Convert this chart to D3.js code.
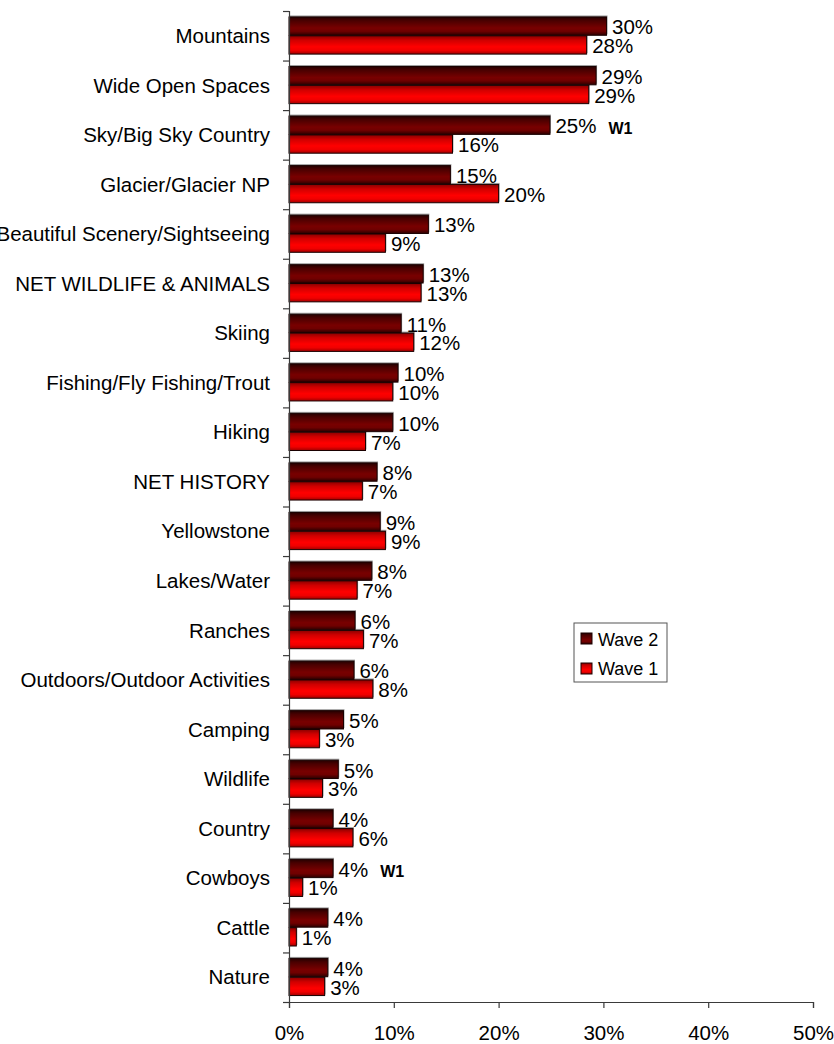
<!DOCTYPE html>
<html>
    <head>
        <meta charset="utf-8">
        <title>Montana Associations Wave 1 vs Wave 2</title>
        <script src="https://cdn.jsdelivr.net/npm/d3@7"></script>
        <style>
            body { margin: 0; background: #fff; }
            text { font-family: "Liberation Sans", Arial, sans-serif; }
        </style>
    </head>
    <body>
        <script>
            const categories = ["Mountains", "Wide Open Spaces", "Sky/Big Sky Country", "Glacier/Glacier NP",
                "Beautiful Scenery/Sightseeing", "NET WILDLIFE & ANIMALS", "Skiing", "Fishing/Fly Fishing/Trout",
                "Hiking", "NET HISTORY", "Yellowstone", "Lakes/Water", "Ranches", "Outdoors/Outdoor Activities",
                "Camping", "Wildlife", "Country", "Cowboys", "Cattle", "Nature"];
            const wave2 = [30.3, 29.3, 24.9, 15.4, 13.3, 12.8, 10.7, 10.4, 9.9, 8.4, 8.7, 7.9, 6.3, 6.2, 5.2, 4.7, 4.2, 4.2, 3.7, 3.7];
            const wave1 = [28.4, 28.6, 15.6, 20.0, 9.2, 12.6, 11.9, 9.9, 7.3, 7.0, 9.2, 6.5, 7.1, 8.0, 2.9, 3.2, 6.1, 1.3, 0.7, 3.4];
            // significance flags shown next to the Wave 2 label
            const w1Flags = ["Sky/Big Sky Country", "Cowboys"];
            const series = ["Wave 2", "Wave 1"];
            const xTicks = [0, 10, 20, 30, 40, 50];

            const w = 834, h = 1044;
            const plot = {left: 289, right: 813, top: 11, bottom: 1002};
            const fontSize = 20.5;

            const svg = d3.select("body")
                .append("svg")
                .attr("width", w)
                .attr("height", h);

            const defs = svg.append("defs");
            const grad = (id, stops) => {
                const g = defs.append("linearGradient")
                    .attr("id", id)
                    .attr("x1", 0).attr("y1", 0)
                    .attr("x2", 0).attr("y2", 1);
                stops.forEach(s => g.append("stop").attr("offset", s[0]).attr("stop-color", s[1]));
            };
            grad("g-wave2", [["0%", "#240000"], ["20%", "#4a0000"], ["60%", "#780000"], ["78%", "#700000"], ["100%", "#2c0000"]]);
            grad("g-wave1", [["0%", "#8a0000"], ["25%", "#d00000"], ["60%", "#ff0000"], ["80%", "#f00000"], ["100%", "#a00000"]]);
            const fills = {"Wave 2": "url(#g-wave2)", "Wave 1": "url(#g-wave1)"};

            const x = d3.scaleLinear()
                .domain([0, 50])
                .range([plot.left, plot.right]);
            const y = d3.scaleBand()
                .domain(categories)
                .range([plot.top, plot.bottom])
                .paddingInner(0.24)
                .paddingOuter(0.12);
            const ySub = d3.scaleBand()
                .domain(series)
                .range([0, y.bandwidth()]);
            const yEdge = d3.scaleLinear()
                .domain([0, categories.length])
                .range([plot.top, plot.bottom]);

            const rows = categories.map((c, i) => ({cat: c, "Wave 2": wave2[i], "Wave 1": wave1[i]}));

            // bars
            const groups = svg.selectAll(".row")
                .data(rows)
                .enter()
                .append("g")
                .attr("class", "row")
                .attr("transform", d => "translate(0," + y(d.cat) + ")");

            groups.selectAll(".shadow")
                .data(d => series.map(s => ({s: s, v: d[s], cat: d.cat})))
                .enter()
                .append("rect")
                .attr("class", "shadow")
                .attr("x", x(0) + 1)
                .attr("y", d => ySub(d.s) - 1.5)
                .attr("width", d => x(d.v) - x(0))
                .attr("height", ySub.bandwidth())
                .style("fill", "#a0a0a0");

            groups.selectAll(".bar")
                .data(d => series.map(s => ({s: s, v: d[s], cat: d.cat})))
                .enter()
                .append("rect")
                .attr("class", "bar")
                .attr("x", x(0))
                .attr("y", d => ySub(d.s))
                .attr("width", d => x(d.v) - x(0))
                .attr("height", ySub.bandwidth() - 0.5)
                .style("fill", d => fills[d.s])
                .style("stroke", "#1a0000")
                .style("stroke-width", 1);

            const labels = groups.selectAll(".val")
                .data(d => series.map(s => ({s: s, v: d[s], cat: d.cat})))
                .enter()
                .append("text")
                .attr("class", "val")
                .attr("x", d => x(d.v) + 5.5)
                .attr("y", d => ySub(d.s) + ySub.bandwidth() - 1.5)
                .style("font-size", fontSize + "px")
                .style("fill", "#000")
                .text(d => Math.round(d.v) + "%");

            labels.filter(d => d.s === "Wave 2" && w1Flags.includes(d.cat))
                .each(function(d){
                    const len = this.getComputedTextLength();
                    d3.select(this.parentNode).append("text")
                        .attr("x", x(d.v) + 5.5 + len + 12)
                        .attr("y", ySub(d.s) + ySub.bandwidth() - 1)
                        .style("font-size", "16px")
                        .style("font-weight", "bold")
                        .text("W1");
                });

            // axes
            const axisColor = "#3a3a3a";
            const yAxis = svg.append("g")
                .attr("transform", "translate(" + plot.left + ",0)")
                .call(d3.axisLeft(yEdge).tickValues(d3.range(categories.length + 1)).tickSize(6).tickFormat(""));
            const xAxis = svg.append("g")
                .attr("transform", "translate(0," + plot.bottom + ")")
                .call(d3.axisBottom(x).tickValues(xTicks).tickSize(6).tickPadding(17.5).tickFormat(d => d + "%"));
            [xAxis, yAxis].forEach(a => {
                a.selectAll("path, line").style("stroke", axisColor).style("stroke-width", 1.2);
            });
            xAxis.selectAll(".tick text")
                .style("font-size", fontSize + "px")
                .style("font-family", "'Liberation Sans', Arial, sans-serif")
                .style("fill", "#000");

            svg.append("g")
                .selectAll("text")
                .data(categories)
                .enter()
                .append("text")
                .attr("x", 270)
                .attr("y", d => y(d) + y.bandwidth() / 2)
                .attr("dy", "0.35em")
                .attr("text-anchor", "end")
                .style("font-size", fontSize + "px")
                .style("fill", "#000")
                .text(d => d);

            // legend
            const legend = svg.append("g")
                .attr("transform", "translate(574,623)");
            legend.append("rect")
                .attr("width", 93)
                .attr("height", 59)
                .style("fill", "#fff")
                .style("stroke", "#555")
                .style("stroke-width", 1);
            series.forEach((s, i) => {
                legend.append("rect")
                    .attr("x", 7)
                    .attr("y", 10 + i * 30)
                    .attr("width", 11)
                    .attr("height", 11)
                    .style("fill", fills[s])
                    .style("stroke", "#1a0000");
                legend.append("text")
                    .attr("x", 24)
                    .attr("y", 23 + i * 29)
                    .style("font-size", "18px")
                    .text(s);
            });
        </script>
    </body>
</html>
